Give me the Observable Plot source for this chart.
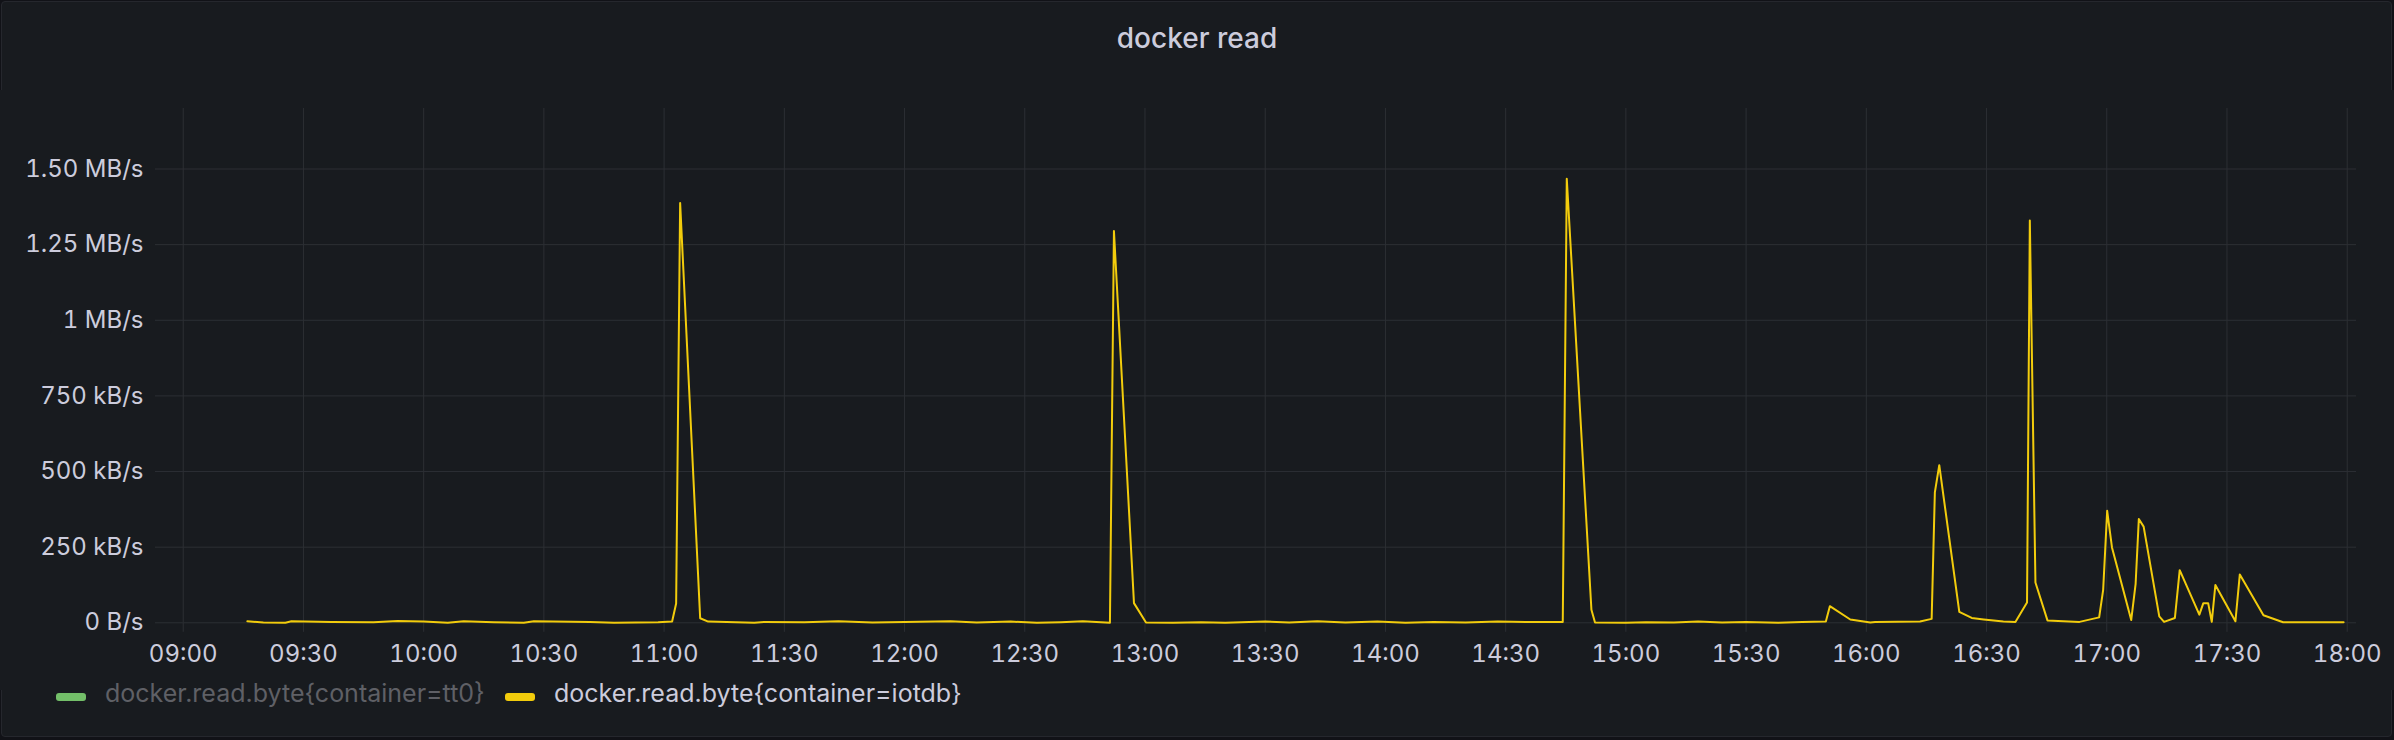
<!DOCTYPE html>
<html>
<head>
<meta charset="utf-8">
<script src="https://cdn.jsdelivr.net/npm/d3@7"></script>
<script src="https://cdn.jsdelivr.net/npm/@observablehq/plot@0.6"></script>
<style>
  html, body { margin: 0; padding: 0; background: #111217; }
  body { width: 2394px; height: 740px; position: relative; overflow: hidden; font-family: Inter, "Noto Sans", sans-serif; }
  #panel { position: absolute; left: 1px; top: 1px; width: 2389px; height: 734px; background: #181b1f; border: 1px solid #25272d; border-radius: 4px; }
  #title { position: absolute; left: 0; top: 24px; width: 2394px; text-align: center; font-size: 28px; line-height: 28px; font-weight: 500; color: #ccccdc; }
  #chart { position: absolute; left: 0; top: 90px; }
  .lg-sw { position: absolute; top: 693px; width: 30px; height: 8px; border-radius: 3px; }
  .lg-tx { position: absolute; top: 681px; font-size: 25px; line-height: 25px; white-space: nowrap; }
</style>
</head>
<body>
<div id="panel"></div>
<div id="title">docker read</div>
<div id="chart"></div>
<div class="lg-sw" id="sw0" style="left:56px"></div>
<div class="lg-tx" id="tx0" style="left:105px"></div>
<div class="lg-sw" id="sw1" style="left:505px"></div>
<div class="lg-tx" id="tx1" style="left:554px"></div>
<script>
// ---- data ----
const seriesNames = ["docker.read.byte{container=tt0}", "docker.read.byte{container=iotdb}"];
const seriesColors = ["#73BF69", "#F2CC0C"];
const seriesHidden = [true, false];

const times = [
  "09:16:00","09:20:00","09:25:30","09:27:00","09:37:00","09:47:30","09:53:30","10:00:00","10:06:00","10:10:00",
  "10:17:30","10:25:00","10:27:30","10:41:30","10:47:30","10:58:30","11:02:00","11:03:00","11:04:00","11:09:00",
  "11:11:00","11:22:30","11:25:00","11:35:00","11:43:30","11:52:00","12:00:00","12:11:30","12:18:00","12:26:30",
  "12:33:00","12:39:00","12:44:30","12:51:15","12:52:15","12:57:15","13:00:15","13:07:00","13:14:00","13:20:00",
  "13:30:00","13:36:00","13:43:00","13:50:00","13:58:00","14:05:00","14:12:00","14:20:00","14:28:00","14:35:00",
  "14:44:15","14:45:15","14:51:24","14:52:18","15:00:00","15:05:00","15:12:00","15:18:00","15:24:00","15:30:00",
  "15:38:00","15:44:00","15:49:54","15:50:54","15:56:00","16:01:00","16:02:12","16:13:24","16:16:18","16:17:06",
  "16:18:12","16:23:12","16:26:18","16:29:18","16:34:12","16:37:12","16:40:06","16:40:48","16:42:12","16:45:12",
  "16:53:12","16:58:06","16:59:06","17:00:06","17:01:18","17:06:06","17:07:12","17:08:00","17:09:12","17:13:06",
  "17:14:18","17:17:00","17:18:12","17:23:06","17:24:06","17:25:18","17:26:12","17:27:06","17:32:06","17:33:12",
  "17:39:06","17:44:00","17:59:06"
];
// iotdb read rate, kB/s
const iotdbRead = [
  5,1,0,5,3,2,6,4,0,5,
  2,0,5,3,0,2,4,64,1388,15,
  4,0,3,2,5,1,3,5,1,4,
  0,2,5,0,1295,65,1,0,2,0,
  4,1,5,1,4,0,3,1,4,3,
  3,1468,43,1,0,2,1,4,1,3,
  0,3,4,55,11,1,3,4,13,431,
  521,36,16,11,4,3,67,1330,133,8,
  3,18,109,370,249,9,129,343,318,21,
  3,16,174,27,65,65,3,125,5,160,
  25,2,2
];

const xTickLabels = ["09:00","09:30","10:00","10:30","11:00","11:30","12:00","12:30","13:00","13:30",
  "14:00","14:30","15:00","15:30","16:00","16:30","17:00","17:30","18:00"];
const yTickValues = [0, 250, 500, 750, 1000, 1250, 1500];
const yTickLabels = ["0 B/s","250 kB/s","500 kB/s","750 kB/s","1 MB/s","1.25 MB/s","1.50 MB/s"];
const timeRange = ["08:53:05", "18:02:19"];

// ---- build ----
const parse = d3.utcParse("%Y-%m-%d %H:%M:%S");
const toDate = s => parse("2022-06-01 " + (s.length === 5 ? s + ":00" : s));
const data = times.map((t, i) => ({time: toDate(t), value: iotdbRead[i]}));
const xTicks = xTickLabels.map(toDate);
const xLabelMap = new Map(xTicks.map((d, i) => [+d, xTickLabels[i]]));
const yLabelMap = new Map(yTickValues.map((v, i) => [v, yTickLabels[i]]));

const gridColor = "#2c2f34";
const textColor = "#ccccdc";

const chart = Plot.plot({
  width: 2394,
  height: 600,
  marginTop: 18,
  marginBottom: 67.7,
  marginLeft: 155,
  marginRight: 38,
  x: {type: "utc", domain: timeRange.map(toDate)},
  y: {domain: [0, 1700]},
  style: {background: "#181b1f", color: textColor, fontFamily: "Inter, sans-serif", fontSize: "24px"},
  marks: [
    Plot.gridY(yTickValues, {stroke: gridColor, strokeOpacity: 1, strokeWidth: 1}),
    Plot.gridX(xTicks, {stroke: gridColor, strokeOpacity: 1, strokeWidth: 1}),
    Plot.axisX(xTicks, {tickSize: 9.5, tickPadding: 13, stroke: gridColor, strokeOpacity: 1, fill: textColor,
      tickFormat: d => xLabelMap.get(+d), label: null}),
    Plot.axisY(yTickValues, {tickSize: 0, tickPadding: 12, fill: textColor,
      tickFormat: d => yLabelMap.get(d), label: null}),
    Plot.line(data, {x: "time", y: "value", stroke: seriesColors[1], strokeWidth: 2})
  ]
});
document.getElementById("chart").appendChild(chart);

// legend
seriesNames.forEach((name, i) => {
  document.getElementById("sw" + i).style.background = seriesColors[i];
  const tx = document.getElementById("tx" + i);
  tx.textContent = name;
  tx.style.color = seriesHidden[i] ? "#5f6066" : textColor;
});
</script>
</body>
</html>
